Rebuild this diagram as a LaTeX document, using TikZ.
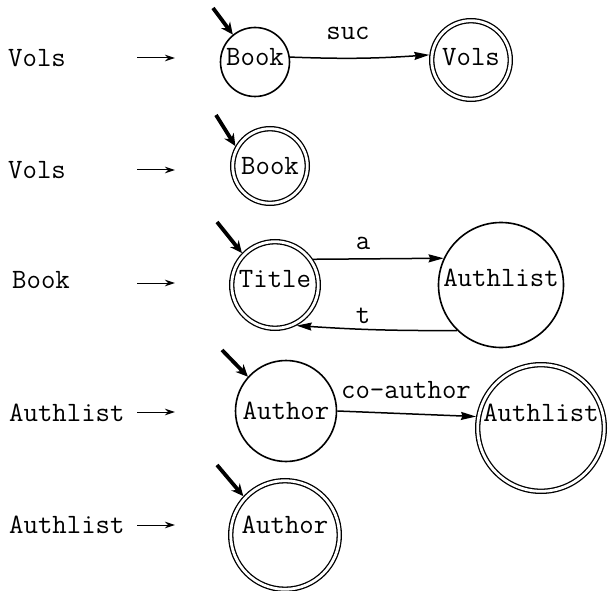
\documentclass[tikz,border=0pt]{standalone}
\usepackage{fontspec}
\usetikzlibrary{arrows.meta}
\begin{document}
\begin{tikzpicture}[x=1pt,y=-1pt,
  every node/.style={font=\fontsize{28}{30}\selectfont\ttfamily},
  st/.style={circle,draw,line width=1.6pt,inner sep=0pt},
  acc/.style={circle,draw,double,double distance=2.8pt,line width=1.3pt,inner sep=0pt,outer sep=2.7pt},
  txt/.style={inner sep=0pt},
  edge/.style={line width=1.5pt,-{Stealth[length=15pt,width=8pt,inset=1.5pt]}},
  init/.style={line width=3.8pt,-{Stealth[length=12pt,width=11pt]}},
  lhs/.style={line width=1pt,-{Stealth[length=10pt,width=6.5pt]}},
]
\useasboundingbox (0,0) rectangle (608,591);

% ---- left-hand sides of the productions
\node[txt,anchor=west] (L1) at (8,58)  {Vols};
\node[txt,anchor=west] (L2) at (8,170) {Vols};
\node[txt,anchor=west] (L3) at (12,280) {Book};
\node[txt,anchor=west] (L4) at (9,413) {Authlist};
\node[txt,anchor=west] (L5) at (9,525) {Authlist};
\foreach \i/\y in {1/58,2/170,3/283,4/412,5/525}{
  \coordinate (p\i) at (137,\y);
  \coordinate (q\i) at (175,\y);
  \draw[lhs] (p\i) -- (q\i);
}

% ---- states
\node[st,minimum size=69pt]    (Book1)  at (255,62)  {};
\node[acc,minimum size=78.6pt] (Vols1)  at (471,60)  {};
\node[acc,minimum size=74.6pt] (Book2)  at (270,166) {};
\node[acc,minimum size=86.6pt] (Title)  at (275,285) {};
\node[st,minimum size=125pt]   (Auth3)  at (501,285) {};
\node[st,minimum size=101pt]   (Autr4)  at (286,411) {};
\node[acc,minimum size=126.6pt](Auth4)  at (541,428) {};
\node[acc,minimum size=108.6pt](Autr5)  at (285,535) {};

% ---- state names
\node[txt] (tBook1) at ([yshift=5pt]Book1.center)  {Book};
\node[txt] (tVols1) at ([yshift=3pt]Vols1.center)  {Vols};
\node[txt] (tBook2) at ([yshift=0pt]Book2.center)  {Book};
\node[txt] (tTitle) at ([yshift=6pt]Title.center)  {Title};
\node[txt] (tAuth3) at ([yshift=7pt]Auth3.center)  {Authlist};
\node[txt] (tAutr4) at ([yshift=0pt]Autr4.center)  {Author};
\node[txt] (tAuth4) at ([yshift=15pt]Auth4.center) {Authlist};
\node[txt] (tAutr5) at ([yshift=10pt]Autr5.center) {Author};

% ---- initial-state markers
\coordinate (i1) at (213,8);
\coordinate (i2) at (216,115);
\coordinate (i3) at (217,222);
\coordinate (i4) at (222,350);
\coordinate (i5) at (217,465);
\draw[init] (i1) -- (Book1.129);
\draw[init] (i2) -- (Book2.150);
\draw[init] (i3) -- (Title.136);
\draw[init] (i4) -- (Autr4.138);
\draw[init] (i5) -- (Autr5.137);

% ---- transitions
\draw[edge] (Book1.8) to[bend right=3] (Vols1.173);
\node[txt] (lsuc) at (348,33) {suc};
\draw[edge] (Title.34) -- (Auth3.155);
\node[txt] (la) at (363,243) {a};
\draw[edge] (Auth3.-134) to[bend left=2] (Title.-62);
\node[txt] (lt) at (363,316) {t};
\draw[edge] (Autr4.east) -- (Auth4.170);
\node[txt] (lco) at (406,390) {co-author};
\end{tikzpicture}
\end{document}
